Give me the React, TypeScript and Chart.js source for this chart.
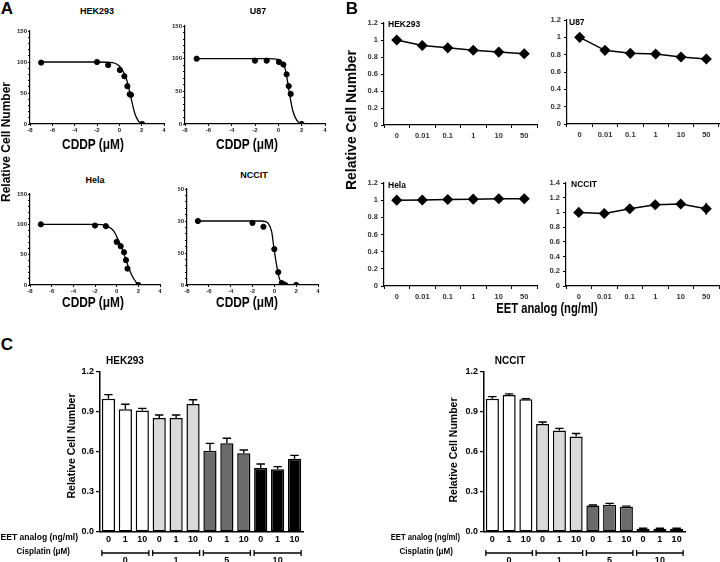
import React, { useEffect, useRef } from 'react';
import { Chart, registerables } from 'chart.js';

Chart.register(...registerables);

const FONT = '"Liberation Sans", Arial, Helvetica, sans-serif';
Chart.defaults.font.family = FONT;
Chart.defaults.color = '#000';

// ---------- Panel A : CDDP dose response (log dose, µM) ----------
const hekA_logDose = [-7, -2, -1, 0.05, 0.45, 0.72, 0.93, 1.04, 2.05];
const hekA_cells = [99, 100, 95, 87, 77, 61, 48, 47, 0];
const hekA_fitDose = [-7, -2, -1, -0.4, 0, 0.3, 0.54, 0.75, 0.96, 1.19, 1.4, 1.7, 2];
const hekA_fitCells = [100, 100, 99.6, 98, 93.5, 86, 77, 65.6, 49, 31, 16, 5, 0];

const u87A_logDose = [-7, -2, -1, 0.05, 0.43, 0.71, 0.89, 1.06, 2];
const u87A_cells = [100, 97, 97, 95, 91, 76, 58, 46, 0];
const u87A_fitDose = [-7, -1, 0, 0.3, 0.55, 0.77, 1.0, 1.23, 1.57, 2];
const u87A_fitCells = [100, 100, 99, 95, 87, 67, 42, 21, 6, 0];

const helaA_logDose = [-7, -2, -1, 0, 0.37, 0.68, 0.86, 1.0, 2];
const helaA_cells = [100, 98, 97, 71, 64, 54, 41, 27, 0];
const helaA_fitDose = [-7, -2, -1, -0.5, -0.2, 0.15, 0.55, 0.92, 1.4, 1.85, 2];
const helaA_fitCells = [100, 99.8, 98, 93, 87, 74, 58, 38, 16, 3, 0];

const nccitA_logDose = [-7, -2, -1, 0, 0.36, 0.67, 0.85, 1.0, 2];
const nccitA_cells = [100, 97, 91, 56, 20, 3, 1, 0, 0];
const nccitA_fitDose = [-7, -1.2, -0.8, -0.55, -0.24, -0.03, 0.21, 0.46, 0.76, 1.0];
const nccitA_fitCells = [100, 100, 99, 96, 83, 57, 31, 10, 1.5, 0];

// ---------- Panel B : EET analog (ng/ml) ----------
const eetDoses = ['0', '0.01', '0.1', '1', '10', '50'];
const hekB = [1.0, 0.935, 0.908, 0.88, 0.858, 0.838];
const u87B = [1.0, 0.85, 0.815, 0.808, 0.773, 0.75];
const helaB = [1.0, 1.002, 1.008, 1.012, 1.016, 1.016];
const nccitB = [1.0, 0.985, 1.05, 1.105, 1.115, 1.05];
const nccitBErr = [0.045, 0.05, 0.03, 0.055, 0.03, 0.08];

// ---------- Panel C : EET analog + cisplatin ----------
const eetLevels = ['0', '1', '10'];
const cisplatinDoses = ['0', '1', '5', '10'];
const hekC = [1.0, 0.92, 0.912, 0.855, 0.855, 0.96, 0.61, 0.665, 0.59, 0.48, 0.47, 0.55];
const hekCErr = [0.03, 0.038, 0.015, 0.022, 0.022, 0.032, 0.055, 0.038, 0.025, 0.03, 0.02, 0.025];
const nccitC = [1.0, 1.028, 0.995, 0.81, 0.762, 0.717, 0.198, 0.205, 0.19, 0.025, 0.025, 0.025];
const nccitCErr = [0.015, 0.008, 0.004, 0.015, 0.015, 0.022, 0.004, 0.01, 0.004, 0.003, 0.003, 0.003];

const groupColors = ['#ffffff', '#d9d9d9', '#6b6b6b', '#000000'];

// ---------- plugins ----------
const errorBarPlugin = {
  id: 'errorBars',
  afterDatasetsDraw(chart: any) {
    const ctx = chart.ctx;
    chart.data.datasets.forEach((ds: any, di: number) => {
      const errs = ds.errors;
      if (!errs) return;
      const meta = chart.getDatasetMeta(di);
      const ys = chart.scales[meta.yAxisID];
      ctx.save();
      ctx.strokeStyle = '#000';
      ctx.lineWidth = 1.4;
      meta.data.forEach((el: any, i: number) => {
        const v = ds.data[i];
        const e = errs[i];
        const top = ys.getPixelForValue(v + e);
        const bottom = ds.errorBoth ? ys.getPixelForValue(v - e) : el.y;
        ctx.beginPath();
        ctx.moveTo(el.x, bottom);
        ctx.lineTo(el.x, top);
        if (ds.errorCap) {
          const cw = (el.width || 10) * 0.32;
          ctx.moveTo(el.x - cw, top);
          ctx.lineTo(el.x + cw, top);
        }
        ctx.stroke();
      });
      ctx.restore();
    });
  },
};

const bracketPlugin = {
  id: 'groupBrackets',
  afterDraw(chart: any, _args: any, opts: any) {
    if (!opts || !opts.groups) return;
    const meta = chart.getDatasetMeta(0);
    const ctx = chart.ctx;
    const size = opts.size;
    const y = chart.chartArea.bottom + opts.offset;
    ctx.save();
    ctx.strokeStyle = '#000';
    ctx.fillStyle = '#000';
    ctx.lineWidth = 1.3;
    ctx.font = `bold 9px ${FONT}`;
    ctx.textAlign = 'center';
    ctx.textBaseline = 'middle';
    opts.groups.forEach((label: string, g: number) => {
      const first = meta.data[g * size];
      const last = meta.data[g * size + size - 1];
      const x1 = first.x - first.width / 2;
      const x2 = last.x + last.width / 2;
      ctx.beginPath();
      ctx.moveTo(x1, y);
      ctx.lineTo(x2, y);
      ctx.moveTo(x1, y - 3);
      ctx.lineTo(x1, y + 3);
      ctx.moveTo(x2, y - 3);
      ctx.lineTo(x2, y + 3);
      ctx.stroke();
      ctx.fillText(label, (x1 + x2) / 2, y + 8);
    });
    ctx.restore();
  },
};

Chart.register(errorBarPlugin as any, bracketPlugin as any);

// ---------- geometry helpers ----------
type Geo = { yW: number; padTop: number; padRight: number; xH: number };

const base = (g: Geo) => ({
  responsive: false,
  animation: false as const,
  events: [] as any[],
  layout: { padding: { left: 0, top: g.padTop, right: g.padRight, bottom: 0 } },
});

function pts(xs: number[], ys: number[]) {
  return xs.map((x, i) => ({ x, y: ys[i] }));
}

function buildA(px: number[], py: number[], fx: number[], fy: number[]) {
  return (g: Geo) => ({
    type: 'scatter',
    data: {
      datasets: [
        {
          data: pts(fx, fy),
          showLine: true,
          pointRadius: 0,
          borderColor: '#000',
          borderWidth: 1.3,
          cubicInterpolationMode: 'monotone',
          fill: false,
        },
        {
          data: pts(px, py),
          showLine: false,
          pointRadius: 2.6,
          backgroundColor: '#000',
          borderColor: '#000',
        },
      ],
    },
    options: {
      ...base(g),
      plugins: { legend: { display: false }, tooltip: { enabled: false } },
      scales: {
        x: {
          type: 'linear',
          min: -8,
          max: 4,
          ticks: { stepSize: 2, font: { size: 6, weight: 'bold' }, color: '#222', padding: 1, maxRotation: 0 },
          grid: { drawOnChartArea: false, tickLength: 2, color: '#000' },
          border: { color: '#000', width: 1.2 },
          afterFit: (s: any) => { s.height = g.xH; },
        },
        y: {
          min: 0,
          max: 150,
          ticks: {
            stepSize: 10,
            autoSkip: false,
            font: { size: 6, weight: 'bold' },
            color: '#222',
            padding: 1,
            callback: (v: any) => (Number(v) % 50 === 0 ? String(v) : ''),
          },
          grid: { drawOnChartArea: false, tickLength: 2, color: '#000' },
          border: { color: '#000', width: 1.2 },
          afterFit: (s: any) => { s.width = g.yW; },
        },
      },
    },
  });
}

function buildB(values: number[], yMax: number, errors?: number[]) {
  return (g: Geo) => ({
    type: 'line',
    data: {
      labels: eetDoses,
      datasets: [
        {
          data: values,
          borderColor: '#000',
          borderWidth: 1.5,
          pointStyle: 'rectRot',
          pointRadius: 4.5,
          pointBackgroundColor: '#000',
          pointBorderColor: '#000',
          tension: 0,
          fill: false,
          errors,
          errorBoth: true,
        },
      ],
    },
    options: {
      ...base(g),
      plugins: { legend: { display: false }, tooltip: { enabled: false } },
      scales: {
        x: {
          type: 'category',
          offset: true,
          ticks: { font: { size: 7.5, weight: 'bold' }, color: '#333', padding: 3, maxRotation: 0, autoSkip: false },
          grid: { offset: true, drawOnChartArea: false, tickLength: 3, color: '#000' },
          border: { color: '#000', width: 1.2 },
          afterFit: (s: any) => { s.height = g.xH; },
        },
        y: {
          min: 0,
          max: yMax,
          ticks: {
            stepSize: 0.2,
            font: { size: 7.5, weight: 'bold' },
            color: '#333',
            padding: 3,
            callback: (v: any) => String(parseFloat(Number(v).toFixed(2))),
          },
          grid: { drawOnChartArea: false, tickLength: 3, color: '#000' },
          border: { color: '#000', width: 1.2 },
          afterFit: (s: any) => { s.width = g.yW; },
        },
      },
    },
  });
}

function buildC(values: number[], errors: number[]) {
  return (g: Geo) => ({
    type: 'bar',
    data: {
      labels: cisplatinDoses.flatMap(() => eetLevels),
      datasets: [
        {
          data: values,
          backgroundColor: values.map((_, i) => groupColors[Math.floor(i / eetLevels.length)]),
          borderColor: '#000',
          borderWidth: 1.5,
          borderSkipped: false,
          barPercentage: 0.78,
          categoryPercentage: 1,
          errors,
          errorCap: true,
        },
      ],
    },
    options: {
      ...base(g),
      plugins: {
        legend: { display: false },
        tooltip: { enabled: false },
        groupBrackets: { groups: cisplatinDoses, size: eetLevels.length, offset: 21 },
      },
      scales: {
        x: {
          ticks: { font: { size: 9, weight: 'bold' }, color: '#000', padding: 2, maxRotation: 0, autoSkip: false },
          grid: { display: true, drawOnChartArea: false, drawTicks: false },
          border: { color: '#000', width: 1.5 },
          afterFit: (s: any) => { s.height = g.xH; },
        },
        y: {
          min: 0,
          max: 1.2,
          ticks: {
            stepSize: 0.3,
            font: { size: 9, weight: 'bold' },
            color: '#000',
            padding: 2,
            callback: (v: any) => Number(v).toFixed(1),
          },
          grid: { drawOnChartArea: false, tickLength: 4, color: '#000', lineWidth: 1.2 },
          border: { color: '#000', width: 1.5 },
          afterFit: (s: any) => { s.width = g.yW; },
        },
      },
    },
  });
}

type Plot = { l: number; t: number; r: number; b: number };

function ChartBox(props: { plot: Plot; geo: Geo; build: (g: Geo) => any; clipLeft?: number }) {
  const { plot, geo, build, clipLeft = 0 } = props;
  const ref = useRef<HTMLCanvasElement | null>(null);
  const left = plot.l - geo.yW;
  const top = plot.t - geo.padTop;
  const width = geo.yW + (plot.r - plot.l) + geo.padRight;
  const height = geo.padTop + (plot.b - plot.t) + geo.xH;
  useEffect(() => {
    const chart = new Chart(ref.current as HTMLCanvasElement, build(geo));
    return () => chart.destroy();
  }, []);
  const canvas = (
    <canvas ref={ref} width={width} height={height} style={{ display: 'block', width, height }} />
  );
  if (clipLeft) {
    return (
      <div style={{ position: 'absolute', left: left + clipLeft, top, width: width - clipLeft, height, overflow: 'hidden' }}>
        <div style={{ position: 'absolute', left: -clipLeft, top: 0 }}>{canvas}</div>
      </div>
    );
  }
  return <div style={{ position: 'absolute', left, top, width, height }}>{canvas}</div>;
}

function Txt(props: {
  x: number;
  y: number;
  size: number;
  children: React.ReactNode;
  bold?: boolean;
  anchor?: 'center' | 'left' | 'right';
  rotate?: boolean;
  sx?: number;
  color?: string;
}) {
  const { x, y, size, children, bold = true, anchor = 'center', rotate = false, sx = 1, color = '#000' } = props;
  let transform = '';
  let origin = 'center center';
  if (anchor === 'center') {
    transform = `translate(-50%, -50%)${rotate ? ' rotate(-90deg)' : ''} scaleX(${sx})`;
  } else if (anchor === 'left') {
    transform = `translate(0, -50%) scaleX(${sx})`;
    origin = 'left center';
  } else {
    transform = `translate(-100%, -50%) scaleX(${sx})`;
    origin = 'right center';
  }
  return (
    <div
      style={{
        position: 'absolute',
        left: x,
        top: y,
        fontFamily: FONT,
        fontSize: size,
        fontWeight: bold ? 700 : 400,
        lineHeight: 1,
        whiteSpace: 'nowrap',
        color,
        transform,
        transformOrigin: origin,
      }}
    >
      {children}
    </div>
  );
}

const geoA: Geo = { yW: 26, padTop: 6, padRight: 6, xH: 14 };
const geoB: Geo = { yW: 22, padTop: 8, padRight: 6, xH: 16 };
const geoC: Geo = { yW: 26, padTop: 8, padRight: 6, xH: 30 };

export default function App() {
  return (
    <div
      style={{
        position: 'absolute',
        left: 0,
        top: 0,
        width: 720,
        height: 562,
        overflow: 'hidden',
        background: '#fff',
        fontFamily: FONT,
      }}
    >
      {/* Panel A */}
      <ChartBox plot={{ l: 30, r: 164, t: 31, b: 124 }} geo={geoA} build={buildA(hekA_logDose, hekA_cells, hekA_fitDose, hekA_fitCells)} />
      <ChartBox plot={{ l: 185, r: 325, t: 26, b: 124 }} geo={geoA} build={buildA(u87A_logDose, u87A_cells, u87A_fitDose, u87A_fitCells)} />
      <ChartBox plot={{ l: 30, r: 160, t: 194, b: 285 }} geo={geoA} build={buildA(helaA_logDose, helaA_cells, helaA_fitDose, helaA_fitCells)} />
      <ChartBox plot={{ l: 187, r: 318, t: 189, b: 285 }} geo={geoA} clipLeft={17} build={buildA(nccitA_logDose, nccitA_cells, nccitA_fitDose, nccitA_fitCells)} />

      {/* Panel B */}
      <ChartBox plot={{ l: 384, r: 537, t: 23, b: 125 }} geo={geoB} build={buildB(hekB, 1.2)} />
      <ChartBox plot={{ l: 567, r: 719, t: 20, b: 124 }} geo={geoB} build={buildB(u87B, 1.2)} />
      <ChartBox plot={{ l: 384, r: 537, t: 183, b: 286 }} geo={geoB} build={buildB(helaB, 1.2)} />
      <ChartBox plot={{ l: 566, r: 719, t: 183, b: 286 }} geo={geoB} build={buildB(nccitB, 1.4, nccitBErr)} />

      {/* Panel C */}
      <ChartBox plot={{ l: 100, r: 303, t: 372, b: 532 }} geo={geoC} build={buildC(hekC, hekCErr)} />
      <ChartBox plot={{ l: 484, r: 685, t: 372, b: 532 }} geo={geoC} build={buildC(nccitC, nccitCErr)} />

      {/* panel letters */}
      <Txt x={7} y={8} size={17}>A</Txt>
      <Txt x={352} y={8} size={17}>B</Txt>
      <Txt x={7} y={344} size={17}>C</Txt>

      {/* Panel A texts */}
      <Txt x={6} y={142} size={12} rotate>Relative Cell Number</Txt>
      <Txt x={97} y={11} size={9}>HEK293</Txt>
      <Txt x={258} y={11} size={9}>U87</Txt>
      <Txt x={95} y={180} size={9}>Hela</Txt>
      <Txt x={254} y={175} size={9}>NCCIT</Txt>
      <Txt x={93} y={144} size={14} sx={0.85}>CDDP (μM)</Txt>
      <Txt x={247} y={144} size={14} sx={0.85}>CDDP (μM)</Txt>
      <Txt x={93} y={302} size={14} sx={0.85}>CDDP (μM)</Txt>
      <Txt x={247} y={302} size={14} sx={0.85}>CDDP (μM)</Txt>

      {/* Panel B texts */}
      <Txt x={351} y={120} size={14} rotate>Relative Cell Number</Txt>
      <Txt x={547} y={308} size={14} sx={0.8}>EET analog (ng/ml)</Txt>
      <Txt x={388} y={24} size={8.5} anchor="left">HEK293</Txt>
      <Txt x={569} y={22} size={8.5} anchor="left">U87</Txt>
      <Txt x={388} y={185} size={8.5} anchor="left">Hela</Txt>
      <Txt x={571} y={184} size={8.5} anchor="left">NCCIT</Txt>

      {/* Panel C texts */}
      <Txt x={125} y={361} size={10}>HEK293</Txt>
      <Txt x={510} y={361} size={10}>NCCIT</Txt>
      <Txt x={71} y={446} size={10.5} rotate>Relative Cell Number</Txt>
      <Txt x={453} y={450} size={10.5} rotate>Relative Cell Number</Txt>
      <Txt x={78} y={537} size={9} anchor="right" sx={0.95}>EET analog (ng/ml)</Txt>
      <Txt x={70} y={551} size={9} anchor="right" sx={0.9}>Cisplatin (μM)</Txt>
      <Txt x={460} y={537} size={9} anchor="right" sx={0.85}>EET analog (ng/ml)</Txt>
      <Txt x={453} y={551} size={9} anchor="right" sx={0.9}>Cisplatin (μM)</Txt>
    </div>
  );
}
